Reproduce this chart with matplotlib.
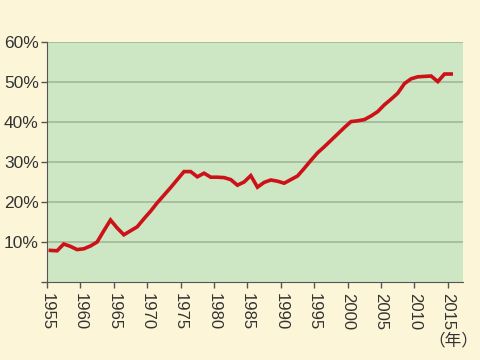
# 進学率の推移 (1955-2015)
import matplotlib
matplotlib.use('Agg')
import numpy as np
import matplotlib.pyplot as plt

plt.rcParams['font.family'] = ['Liberation Sans', 'Noto Sans CJK JP', 'DejaVu Sans']

# データ (年, %)
years = np.arange(1955, 2016)
rate = [7.9, 7.8, 9.5, 8.9, 8.1, 8.3, 9.0, 10.0, 12.8, 15.5,
        13.5, 11.8, 12.8, 13.8, 15.8, 17.7, 19.8, 21.7, 23.6, 25.6,
        27.6, 27.6, 26.3, 27.2, 26.2, 26.2, 26.1, 25.6, 24.2, 25.0,
        26.6, 23.7, 24.9, 25.5, 25.2, 24.7, 25.6, 26.5, 28.4, 30.4,
        32.3, 33.8, 35.4, 37.0, 38.6, 40.1, 40.3, 40.6, 41.5, 42.6,
        44.3, 45.7, 47.2, 49.6, 50.8, 51.3, 51.4, 51.5, 50.1, 52.0,
        52.0]
xticks = np.arange(1955, 2016, 5)
yticks = [0, 10, 20, 30, 40, 50, 60]
ylabels = ['', '10%', '20%', '30%', '40%', '50%', '60%']

bg = '#fdf5d8'
green = '#cde6c3'
txt = '#333333'

fig = plt.figure(figsize=(4.8, 3.6), dpi=100, facecolor=bg)
ax = fig.add_axes([0.098, 0.2167, 0.867, 0.6666], facecolor=green)

# 年の中央に点を置く
ax.plot(years + 0.5, rate, color='#cc1118', lw=2.6, solid_joinstyle='miter', zorder=3)

ax.set_xlim(1955, 2017.3)
ax.set_ylim(0, 60)
ax.set_yticks(yticks)
ax.set_yticklabels(ylabels)
ax.set_xticks(xticks)
ax.set_xticklabels([str(y) for y in xticks], rotation=-90, va='top')

for v in yticks[1:]:
    ax.axhline(v, color='#9db596', lw=1.1, zorder=1)

for s in ['top', 'right']:
    ax.spines[s].set_visible(False)
ax.spines['left'].set_color('#555555')
ax.spines['bottom'].set_color('#555555')

ax.tick_params(axis='y', length=4, width=1, color='#555555', labelsize=12.5, labelcolor=txt, pad=2)
ax.tick_params(axis='x', length=4, width=1, color='#555555', labelsize=12, labelcolor=txt, pad=4)

fig.text(0.944, 0.053, '（年）', ha='center', va='center', fontsize=12, color=txt,
         family=['Noto Sans CJK JP', 'DejaVu Sans'])

fig.savefig('out.png', dpi=100, facecolor=bg)
